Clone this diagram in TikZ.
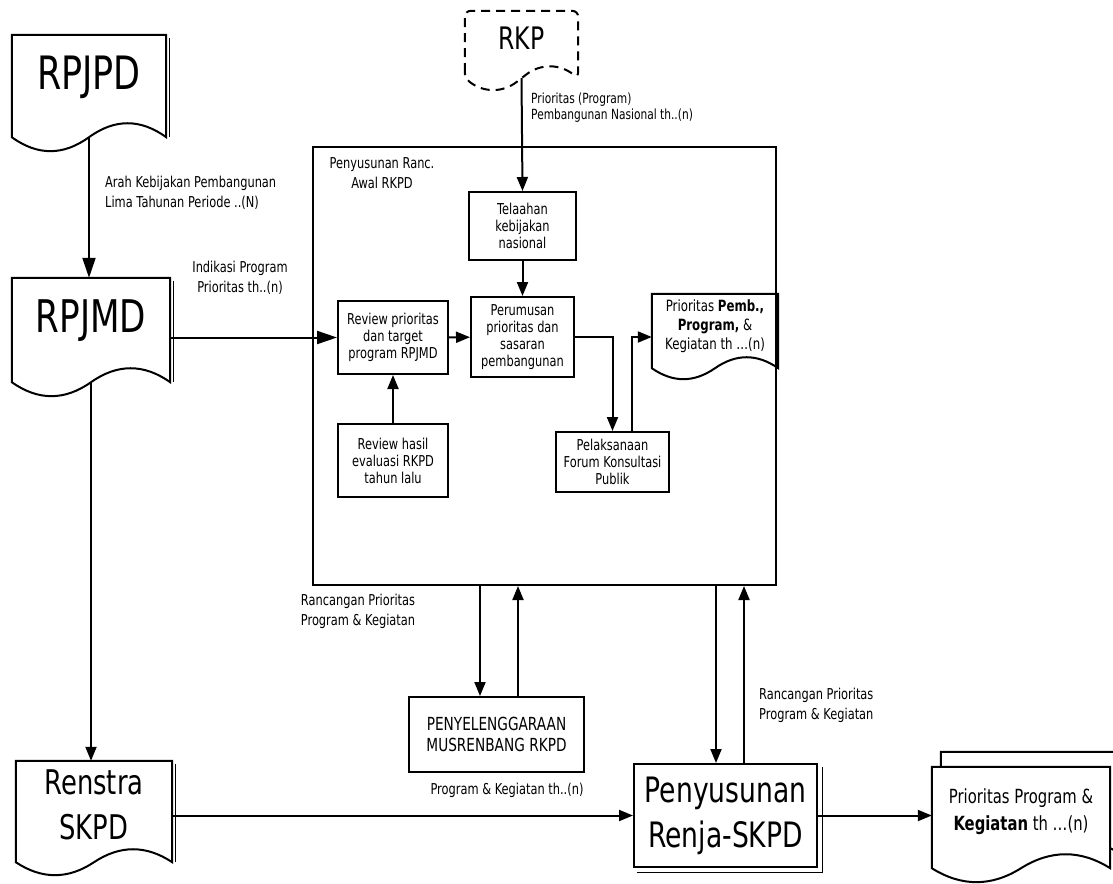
\documentclass[tikz,border=0pt]{standalone}
\usepackage{fontspec}
\setmainfont{DejaVu Sans}[FakeStretch=0.76]
\usetikzlibrary{arrows.meta,calc,backgrounds}

\tikzset{
  ln/.style={line width=2pt},
  arr/.style={ln,-{Triangle[length=14pt,width=11pt]}},
  bigarr/.style={ln,-{Triangle[length=20pt,width=13pt]}},
  proc/.style={draw,ln,fill=white,inner sep=0pt,align=center,font=\fontsize{15pt}{17pt}\selectfont},
  docu/.style={inner sep=0pt,align=center},
  lbl/.style={inner sep=0pt,font=\fontsize{15pt}{20pt}\selectfont},
}

% document shape round a node: #2 node, #3 side below node, #4 wave height
\newcommand\docshape[4][]{%
  \begin{scope}[on background layer]
  \draw[ln,fill=white,#1] let \p1=(#2.north west), \p2=(#2.south east), \n1={\x2-\x1} in
    (\x1,{\y2-#3pt}) -- (\x1,\y1) -- (\x2,\y1) -- (\x2,{\y2-#3pt})
    .. controls ({\x2-\n1/6*1pt},{\y2-#3pt+1.33*#4pt}) and ({\x2-\n1/3*1pt},{\y2-#3pt+1.33*#4pt}) .. ({\x2-\n1/2*1pt},{\y2-#3pt})
    .. controls ({\x1+\n1/3*1pt},{\y2-#3pt-1.33*#4pt}) and ({\x1+\n1/6*1pt},{\y2-#3pt-1.33*#4pt}) .. (\x1,{\y2-#3pt}) -- cycle;
  \end{scope}
  \coordinate (#2-b) at ($(#2.south)+(0,#3)$);
}
% thin second line at the right side
\newcommand\docside[2]{\draw[line width=0.9pt] ($(#1.north east)+(3,3)$) -- ($(#1.south east)+(3,#2)$);}

\begin{document}
\begin{tikzpicture}[x=1pt,y=-1pt]
  \useasboundingbox (0,0) rectangle (1113,883);
  \clip (0,0) rectangle (1113,883);

  % documents on the left
  \node[docu,minimum width=154pt,minimum height=84pt,font=\fontsize{46pt}{48pt}\selectfont] (rpjpd) at (89,77) {RPJPD};
  \docshape{rpjpd}{18}{14}
  \docside{rpjpd}{18}
  \node[docu,minimum width=158pt,minimum height=86pt,font=\fontsize{45pt}{48pt}\selectfont] (rpjmd) at (91,321) {RPJMD};
  \docshape{rpjmd}{18}{14}
  \docside{rpjmd}{18}
  \node[docu,minimum width=156pt,minimum height=88pt,font=\fontsize{34pt}{45pt}\selectfont] (renstra) at (94,805) {Renstra\\SKPD};
  \docshape{renstra}{13}{13}
  \docside{renstra}{13}

  \node[docu,minimum width=113pt,minimum height=54pt,font=\fontsize{31pt}{36pt}\selectfont] (rkp) at (521.5,38) {RKP};
  \docshape[dash pattern=on 9pt off 6pt,rounded corners=6pt]{rkp}{13}{11}

  % Penyusunan Ranc. Awal RKPD
  \node[draw,ln,minimum width=463pt,minimum height=438pt] (ranc) at (544.5,366) {};
  \node[lbl,align=center] (ranctxt) at (382,173) {Penyusunan Ranc.\\Awal RKPD};
  \node[proc,minimum width=107pt,minimum height=68pt] (telaah) at (522.5,226) {Telaahan\\kebijakan\\nasional};
  \node[proc,minimum width=103pt,minimum height=80pt] (rumus) at (522.5,337) {Perumusan\\prioritas dan\\sasaran\\pembangunan};
  \node[proc,minimum width=110pt,minimum height=73pt] (reviewp) at (393,337.5) {Review prioritas\\dan target\\program RPJMD};
  \node[proc,minimum width=110pt,minimum height=73pt] (reviewh) at (393,460.5) {Review hasil\\evaluasi RKPD\\tahun lalu};
  \node[proc,minimum width=113pt,minimum height=60pt] (forum) at (612.5,462) {Pelaksanaan\\Forum Konsultasi\\Publik};
  \node[docu,minimum width=126pt,minimum height=64pt,font=\fontsize{15.5pt}{19pt}\selectfont] (prior) at (715,326) {Prioritas \textbf{Pemb.,}\\\textbf{Program,} \&\\Kegiatan th …(n)};
  \docshape{prior}{10}{11}

  % bottom row
  \node[proc,minimum width=175pt,minimum height=75pt,font=\fontsize{18pt}{20.5pt}\selectfont] (musren) at (496.5,734.5) {PENYELENGGARAAN\\MUSRENBANG RKPD};
  \node[draw,ln,fill=white,inner sep=0pt,align=center,minimum width=183pt,minimum height=103pt,font=\fontsize{35pt}{45pt}\selectfont] (renja) at (725.5,815.5) {Penyusunan\\Renja-SKPD};
  \draw[line width=0.9pt] ($(renja.north east)+(4,4)$) -- ($(renja.south east)+(4,4)$) -- ($(renja.south west)+(4,4)$);
  \node[docu,minimum width=178pt,minimum height=89pt] (outback) at (1030,796.5) {};
  \docshape{outback}{12}{14}
  \node[docu,minimum width=178pt,minimum height=89pt,font=\fontsize{19.5pt}{27pt}\selectfont] (out) at (1021,811.5) {Prioritas Program \&\\\textbf{Kegiatan} th …(n)};
  \docshape{out}{12}{14}

  % connectors
  \draw[bigarr] (rpjpd-b) -- (rpjpd-b |- rpjmd.north);
  \node[lbl,anchor=west,align=left] (arahlbl) at (105,193) {Arah Kebijakan Pembangunan\\Lima Tahunan Periode ..(N)};
  \draw[bigarr] (rpjmd.east |- reviewp.west) -- (reviewp.west);
  \node[lbl,align=center] (indlbl) at (240,277.5) {Indikasi Program\\Prioritas th..(n)};
  \draw[arr] (rkp-b) -- (telaah.north);
  \node[inner sep=0pt,anchor=west,align=left,font=\fontsize{14pt}{15.5pt}\selectfont] (rkplbl) at (531,107.5) {Prioritas (Program)\\Pembangunan Nasional th..(n)};
  \draw[arr] (telaah) -- (rumus);
  \draw[arr] (reviewp) -- (rumus);
  \draw[arr] (reviewh) -- (reviewp);
  \draw[arr] (rumus.east) -| (forum.north);
  \draw[arr] ([xshift=19.5pt]forum.north) |- ([yshift=-11pt]prior.west);
  \draw[arr] ([xshift=-16.5pt]musren.north |- ranc.south) -- ([xshift=-16.5pt]musren.north);
  \draw[arr] ([xshift=21.5pt]musren.north) -- ([xshift=21.5pt]musren.north |- ranc.south);
  \node[lbl,align=left] (rancl) at (358,611) {Rancangan Prioritas\\Program \& Kegiatan};
  \draw[arr] ([xshift=-9.5pt]renja.north |- ranc.south) -- ([xshift=-9.5pt]renja.north);
  \draw[arr] ([xshift=18.5pt]renja.north) -- ([xshift=18.5pt]renja.north |- ranc.south);
  \node[lbl,anchor=west,align=left] (rancr) at (759,705) {Rancangan Prioritas\\Program \& Kegiatan};
  \draw[arr] (rpjmd-b) -- (rpjmd-b |- renstra.north);
  \draw[arr] (renstra.east |- renja.west) -- (renja.west);
  \node[lbl] (prglbl) at (507,790) {Program \& Kegiatan th..(n)};
  \draw[arr] (renja.east) -- (renja.east -| out.west);
\end{tikzpicture}
\end{document}
